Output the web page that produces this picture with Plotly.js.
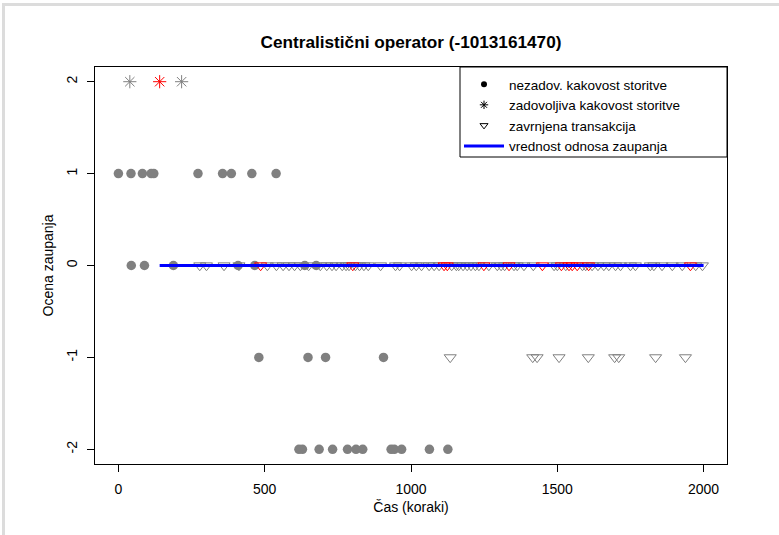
<!DOCTYPE html>
<html>
<head>
<meta charset="utf-8">
<script src="https://cdn.plot.ly/plotly-3.0.1.min.js"></script>
<style>
html,body{margin:0;padding:0;background:#fff;}
#wrap{position:relative;width:779px;height:535px;overflow:hidden;}
#frame{position:absolute;left:2px;top:3px;width:790px;height:540px;border-top:3px solid #dcdcdc;border-left:3px solid #dcdcdc;pointer-events:none;z-index:5;}
#chart{position:absolute;left:0;top:0;width:779px;height:535px;}
</style>
</head>
<body>
<div id="wrap"><div id="chart"></div><div id="frame"></div></div>
<script>
// unsatisfactory quality of service (filled circles)
const badTime  = [0, 43, 82, 112, 121, 272, 356, 386, 456, 539,
                  44, 89, 188, 409, 466, 637, 676,
                  480, 648, 708, 906,
                  617, 629, 686, 732, 783, 812, 835, 932, 943, 968, 1063, 1126];
const badScore = [1, 1, 1, 1, 1, 1, 1, 1, 1, 1,
                  0, 0, 0, 0, 0, 0, 0,
                  -1, -1, -1, -1,
                  -2, -2, -2, -2, -2, -2, -2, -2, -2, -2, -2, -2];

// satisfactory quality of service (asterisks)
const goodTimeGray  = [39, 216];
const goodScoreGray = [2, 2];
const goodTimeRed   = [141];
const goodScoreRed  = [2];

// rejected transactions (open down-triangles)
const rejTimeGray  = [278, 301, 361, 412, 509, 540, 563, 583, 602, 622, 650, 690, 712, 730, 744, 765, 778, 788,
                      810, 824, 839, 854, 896, 947, 961, 1002, 1018, 1036, 1062, 1079, 1096, 1139, 1155, 1163,
                      1178, 1192, 1205, 1220, 1232, 1266, 1295, 1308, 1320, 1352, 1363, 1386, 1418, 1489, 1500,
                      1529, 1586, 1597, 1619, 1639, 1659, 1676, 1699, 1716, 1750, 1767, 1818, 1830, 1858, 1893,
                      1927, 1973, 1996,
                      1134, 1416, 1431, 1506, 1606, 1696, 1710, 1836, 1938];
const rejScoreGray = [0, 0, 0, 0, 0, 0, 0, 0, 0, 0, 0, 0, 0, 0, 0, 0, 0, 0,
                      0, 0, 0, 0, 0, 0, 0, 0, 0, 0, 0, 0, 0, 0, 0, 0,
                      0, 0, 0, 0, 0, 0, 0, 0, 0, 0, 0, 0, 0, 0, 0,
                      0, 0, 0, 0, 0, 0, 0, 0, 0, 0, 0, 0, 0, 0, 0,
                      0, 0, 0,
                      -1, -1, -1, -1, -1, -1, -1, -1, -1];
const rejTimeRed  = [486, 801, 1113, 1124, 1249, 1335, 1449, 1514, 1540, 1551, 1568, 1607, 1955];
const rejScoreRed = [0, 0, 0, 0, 0, 0, 0, 0, 0, 0, 0, 0, 0];

// trust relation value (line)
const trustTime  = [141, 2000];
const trustValue = [0, 0];

const xTicks = [0, 500, 1000, 1500, 2000];
const yTicks = [-2, -1, 0, 1, 2];

const legendNames = ["nezadov. kakovost storitve", "zadovoljiva kakovost storitve",
                     "zavrnjena transakcija", "vrednost odnosa zaupanja"];

const GRAY = "#808080";
const FONT = "Liberation Sans, Arial, Helvetica, sans-serif";

const traces = [
  {x: badTime, y: badScore, type: "scatter", mode: "markers", showlegend: false,
   marker: {symbol: "circle", size: 9.5, color: GRAY}},
  {x: goodTimeGray, y: goodScoreGray, type: "scatter", mode: "markers", showlegend: false,
   marker: {symbol: "asterisk-open", size: 11, color: GRAY, line: {color: GRAY, width: 1}}},
  {x: goodTimeRed, y: goodScoreRed, type: "scatter", mode: "markers", showlegend: false,
   marker: {symbol: "asterisk-open", size: 11, color: "#ff0000", line: {color: "#ff0000", width: 1}}},
  {x: rejTimeGray, y: rejScoreGray, type: "scatter", mode: "markers", showlegend: false,
   marker: {symbol: "triangle-down-open", size: 10.5, color: GRAY, line: {color: GRAY, width: 1}}},
  {x: rejTimeRed, y: rejScoreRed, type: "scatter", mode: "markers", showlegend: false,
   marker: {symbol: "triangle-down-open", size: 10.5, color: "#ff0000", line: {color: "#ff0000", width: 1}}},
  // legend-only entries
  {x: [null], y: [null], type: "scatter", mode: "markers", name: legendNames[0],
   marker: {symbol: "circle", size: 6, color: "#000"}},
  {x: [null], y: [null], type: "scatter", mode: "markers", name: legendNames[1],
   marker: {symbol: "asterisk-open", size: 7, color: "#000", line: {color: "#000", width: 1}}},
  {x: [null], y: [null], type: "scatter", mode: "markers", name: legendNames[2],
   marker: {symbol: "triangle-down-open", size: 7, color: "#000", line: {color: "#000", width: 1}}},
  {x: trustTime, y: trustValue, type: "scatter", mode: "lines", name: legendNames[3],
   line: {color: "#0000ff", width: 3}}
];

// plot area in pixels: left 95, right 727, top 67, bottom 464
const PW = 632, PH = 397;
const layout = {
  width: 779, height: 535,
  paper_bgcolor: "#fff", plot_bgcolor: "#fff",
  margin: {l: 95, r: 52, t: 67, b: 71, pad: 0},
  font: {family: FONT, size: 14, color: "#000"},
  title: {text: "<b>Centralistični operator (-1013161470)</b>", font: {family: FONT, size: 17.2, color: "#000"},
          x: 0.5, xref: "paper", xanchor: "center", y: 1 - 42/535, yref: "container", yanchor: "middle"},
  xaxis: {range: [-80, 2080], tickvals: xTicks, ticktext: xTicks.map(String),
          showgrid: false, zeroline: false, showline: true, mirror: true, linecolor: "#000", linewidth: 1,
          ticks: "outside", ticklen: 7, tickwidth: 1, tickcolor: "#000", ticklabelstandoff: 5,
          tickfont: {family: FONT, size: 14, color: "#000"},
          title: {text: "Čas (koraki)", font: {family: FONT, size: 14, color: "#000"}, standoff: 6},
          automargin: false},
  yaxis: {range: [-2.16, 2.16], tickvals: yTicks, ticktext: yTicks.map(String),
          showgrid: false, zeroline: false, showline: true, mirror: true, linecolor: "#000", linewidth: 1,
          ticks: "outside", ticklen: 7, tickwidth: 1, tickcolor: "#000", tickangle: -90, ticklabelstandoff: 4,
          tickfont: {family: FONT, size: 14, color: "#000"},
          title: {text: "Ocena zaupanja", font: {family: FONT, size: 14, color: "#000"}, standoff: 7},
          automargin: false},
  shapes: [
    {type: "rect", xref: "paper", yref: "paper", layer: "above",
     x0: (460 - 95) / PW, x1: 1, y0: (464 - 157) / PH, y1: 1,
     line: {color: "#000", width: 1}, fillcolor: "#fff"}
  ],
  legend: {x: (459 - 95) / PW, xanchor: "left", y: 1 - 2 / PH, yanchor: "top", xref: "paper", yref: "paper",
           bgcolor: "rgba(0,0,0,0)", bordercolor: "rgba(0,0,0,0)", borderwidth: 0, itemwidth: 40,
           font: {family: FONT, size: 13.5, color: "#000"}, itemclick: false},
  showlegend: true
};

Plotly.newPlot("chart", traces, layout, {displayModeBar: false, staticPlot: true});
</script>
</body>
</html>
